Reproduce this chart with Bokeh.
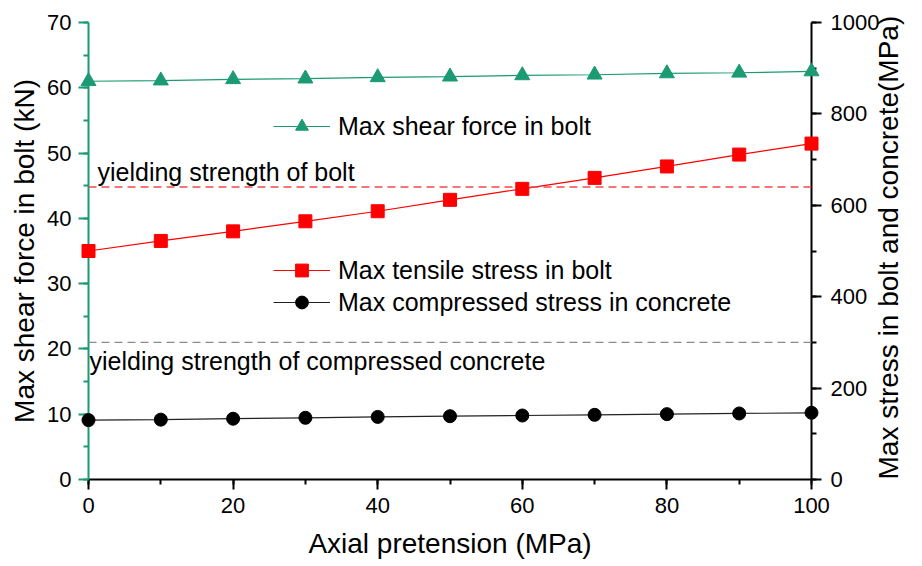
import math
from bokeh.plotting import figure
from bokeh.models import (Range1d, LinearAxis, SingleIntervalTicker, Span, Label,
                          Legend, LegendItem)
from bokeh.embed import file_html
from bokeh.resources import INLINE

# ---- data ----
axial_pretension = [0, 10, 20, 30, 40, 50, 60, 70, 80, 90, 100]
max_shear_force = [61.0, 61.1, 61.3, 61.4, 61.6, 61.7, 61.9, 62.0, 62.2, 62.3, 62.5]
max_tensile_stress = [500, 522, 543, 565, 587, 612, 636, 660, 685, 711, 735]
max_compressed_stress = [130, 131, 133, 135, 137, 138.5, 140, 141.5, 143, 144.5, 146]
bolt_yield = 640
concrete_yield = 300

left_range = (0, 70)
right_range = (0, 1000)
x_extent = (0, 100)

GREEN = "#1b9a74"
RED = "#ff0000"
FONT = "Liberation Sans"

p = figure(width=922, height=566, output_backend="svg", toolbar_location=None,
           x_range=Range1d(*x_extent), y_range=Range1d(*left_range),
           min_border_left=88, min_border_right=109, min_border_top=22,
           min_border_bottom=87)
p.extra_y_ranges = {"right": Range1d(*right_range)}
p.grid.visible = False
p.outline_line_color = None
p.background_fill_color = "white"
p.border_fill_color = "white"


def style_axis(ax, color):
    ax.axis_line_width = 2
    ax.axis_line_color = color
    ax.major_tick_line_color = color
    ax.minor_tick_line_color = color
    ax.major_tick_line_width = 2
    ax.minor_tick_line_width = 2
    ax.major_tick_out = 10
    ax.major_tick_in = 0
    ax.minor_tick_out = 5
    ax.minor_tick_in = 0
    ax.major_label_text_font = FONT
    ax.major_label_text_font_size = "22px"
    ax.major_label_text_color = "black"
    ax.axis_label_text_font = FONT
    ax.axis_label_text_font_size = "28px"
    ax.axis_label_text_font_style = "normal"
    ax.axis_label_text_color = "black"


xa = p.xaxis[0]
xa.ticker = SingleIntervalTicker(interval=20, num_minor_ticks=2)
style_axis(xa, "black")
xa.major_label_standoff = 8
xa.axis_label = "Axial pretension (MPa)"
xa.axis_label_standoff = 12

ya = p.yaxis[0]
ya.ticker = SingleIntervalTicker(interval=10, num_minor_ticks=2)
style_axis(ya, GREEN)
ya.major_label_standoff = 7
ya.axis_label = "Max shear force in bolt (kN)"
ya.axis_label_standoff = 4

ra = LinearAxis(y_range_name="right",
                ticker=SingleIntervalTicker(interval=200, num_minor_ticks=2))
style_axis(ra, "black")
ra.major_label_standoff = 9
ra.axis_label = "Max stress in bolt and concrete(MPa)"
ra.axis_label_standoff = 6
props = ra.properties()
if "axis_label_orientation" in props:
    ra.axis_label_orientation = math.pi / 2
if "axis_label_align" in props:
    ra.axis_label_align = "start"
p.add_layout(ra, "right")

# yield lines
p.add_layout(Span(location=bolt_yield, dimension="width", y_range_name="right",
                  line_color="#f24a4a", line_width=1.3, line_dash="8 5"))
p.add_layout(Span(location=concrete_yield, dimension="width", y_range_name="right",
                  line_color="#8c8c8c", line_width=1.3, line_dash="8 5"))

# series
g_line = p.line(axial_pretension, max_shear_force, line_color=GREEN, line_width=1.2)
g_sc = p.scatter(axial_pretension, max_shear_force, marker="triangle", size=15,
                 fill_color=GREEN, line_color=GREEN, level="overlay")
r_line = p.line(axial_pretension, max_tensile_stress, y_range_name="right",
                line_color=RED, line_width=1.2)
r_sc = p.scatter(axial_pretension, max_tensile_stress, marker="square", size=13,
                 y_range_name="right", fill_color=RED, line_color=RED,
                 level="overlay")
k_line = p.line(axial_pretension, max_compressed_stress, y_range_name="right",
                line_color="#222222", line_width=1.2)
k_sc = p.scatter(axial_pretension, max_compressed_stress, marker="circle", size=13,
                 y_range_name="right", fill_color="black", line_color="black",
                 level="overlay")


def make_legend(items, loc):
    return Legend(items=items, location=loc, glyph_width=57, glyph_height=32,
                  label_height=32, spacing=0, padding=0, margin=0,
                  label_standoff=8, label_text_font=FONT,
                  label_text_font_size="25px", label_text_color="black",
                  border_line_color=None, background_fill_alpha=0)


leg1 = make_legend([LegendItem(label="Max shear force in bolt",
                               renderers=[g_line, g_sc])], (185, 337))
leg2 = make_legend([LegendItem(label="Max tensile stress in bolt",
                               renderers=[r_line, r_sc]),
                    LegendItem(label="Max compressed stress in concrete",
                               renderers=[k_line, k_sc])], (185, 161))
p.add_layout(leg1)
p.add_layout(leg2)

# annotations
p.add_layout(Label(x=0, y=bolt_yield, y_range_name="right", x_offset=9, y_offset=15,
                   text="yielding strength of bolt", text_baseline="middle",
                   text_font=FONT, text_font_size="25px", text_color="black"))
p.add_layout(Label(x=0, y=concrete_yield, y_range_name="right", x_offset=1,
                   y_offset=-19, text="yielding strength of compressed concrete",
                   text_baseline="middle", text_font=FONT, text_font_size="25px",
                   text_color="black"))

open("out.html", "w").write(file_html(p, INLINE))
